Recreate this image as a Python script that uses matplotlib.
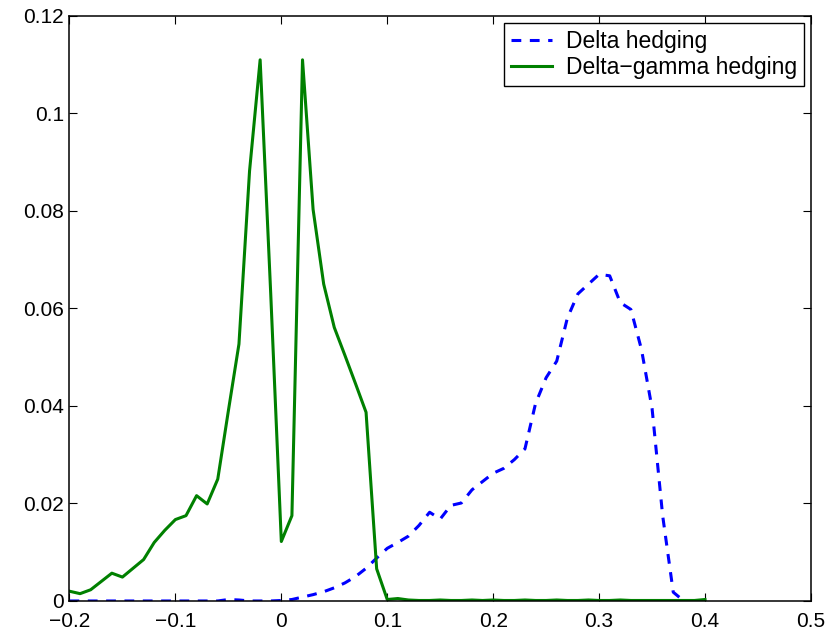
import matplotlib.pyplot as plt
import numpy as np

plt.rcParams['font.family'] = ['Liberation Sans', 'DejaVu Sans']

# P&L grid (step 0.01)
x = np.round(np.arange(-0.2, 0.4001, 0.01), 2)

# delta hedging
delta = [0, 0, 0, 0, 0, 0, 0, 0, 0, 0,
         0, 0, 0, 0, 0, 0.0003, 0.0002, 0, 0, 0,
         0.0001, 0.0003, 0.0008, 0.0013, 0.0019, 0.0027, 0.0037, 0.0050, 0.0067, 0.0088,
         0.0108, 0.0120, 0.0133, 0.0155, 0.0182, 0.0168, 0.0196, 0.0201, 0.0228, 0.0245,
         0.0262, 0.0272, 0.0290, 0.0312, 0.0405, 0.0458, 0.0492, 0.0580, 0.0630, 0.0650,
         0.0670, 0.0667, 0.0612, 0.0598, 0.0516, 0.0395, 0.0175, 0.0018, 0, 0,
         0]

# delta-gamma hedging
gamma = [0.0020, 0.0015, 0.0023, 0.0040, 0.0057, 0.0049, 0.0067, 0.0085, 0.0120, 0.0145,
         0.0167, 0.0175, 0.0216, 0.0199, 0.0250, 0.0390, 0.0527, 0.0882, 0.1110, 0.0630,
         0.0122, 0.0175, 0.1110, 0.0803, 0.0650, 0.0561, 0.0504, 0.0446, 0.0387, 0.0066,
         0.0003, 0.0005, 0.0002, 0.0001, 0.0001, 0.0002, 0.0001, 0.0001, 0.0002, 0.0001,
         0.0002, 0.0001, 0.0001, 0.0002, 0.0001, 0.0001, 0.0002, 0.0001, 0.0001, 0.0002,
         0.0001, 0.0001, 0.0002, 0.0001, 0.0001, 0.0001, 0.0001, 0.0001, 0.0001, 0.0001,
         0.0003]

xticks = [-0.2, -0.1, 0, 0.1, 0.2, 0.3, 0.4, 0.5]
xlabels = ['\u22120.2', '\u22120.1', '0', '0.1', '0.2', '0.3', '0.4', '0.5']
yticks = [0, 0.02, 0.04, 0.06, 0.08, 0.1, 0.12]
ylabels = ['0', '0.02', '0.04', '0.06', '0.08', '0.1', '0.12']

fig = plt.figure(figsize=(8.32, 6.33), dpi=100)
ax = fig.add_axes([0.0835, 0.0506, 0.8912, 0.9242])

ax.plot(x, delta, color=(0, 0, 1), linestyle=(0, (3.2, 2.8)), linewidth=2.2, label='Delta hedging')
ax.plot(x, gamma, color=(0, 0.5, 0), linestyle='-', linewidth=2.2, label='Delta\u2212gamma hedging')

ax.set_xlim(-0.2, 0.5)
ax.set_ylim(0, 0.12)
ax.set_xticks(xticks)
ax.set_xticklabels(xlabels)
ax.set_yticks(yticks)
ax.set_yticklabels(ylabels)
ax.tick_params(direction='in', top=True, right=True, labelsize=15, length=5.5, width=0.8)
ax.tick_params(axis='x', pad=8)
ax.tick_params(axis='y', pad=4)
for s in ax.spines.values():
    s.set_linewidth(1.1)

leg = ax.legend(loc='upper right', fontsize=16.5, fancybox=False, edgecolor='black',
                framealpha=1, borderaxespad=0.3, handlelength=1.8, handletextpad=0.6,
                borderpad=0.3, labelspacing=0.15)
leg.get_frame().set_linewidth(1.0)

fig.savefig('out.png', dpi=100)
